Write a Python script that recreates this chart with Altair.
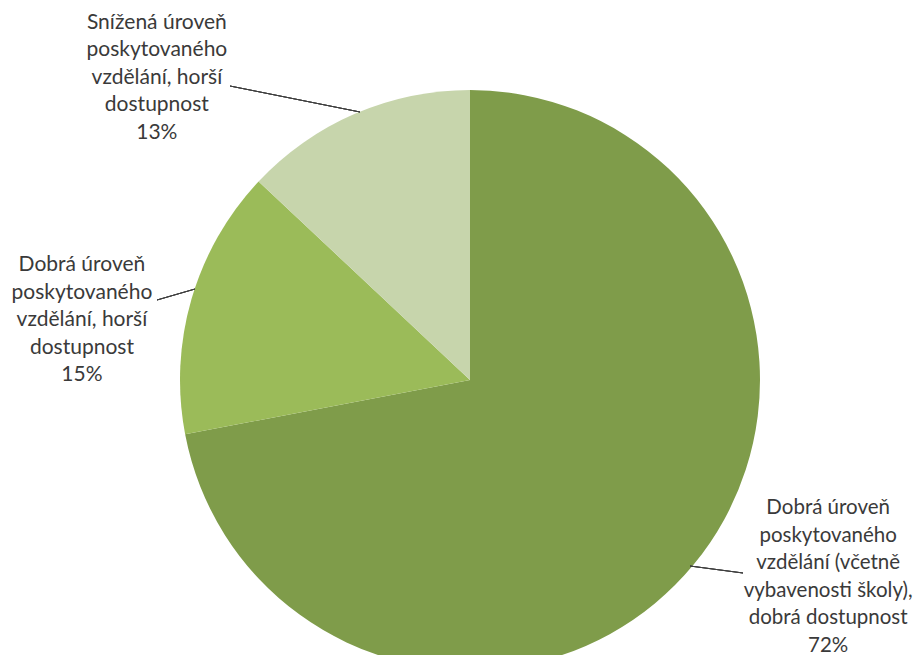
import math
import altair as alt
import pandas as pd

categories = [
    "Dobrá úroveň poskytovaného vzdělání (včetně vybavenosti školy), dobrá dostupnost",
    "Dobrá úroveň poskytovaného vzdělání, horší dostupnost",
    "Snížená úroveň poskytovaného vzdělání, horší dostupnost",
]
values = [72, 15, 13]
label_lines = [
    "Dobrá úroveň\nposkytovaného\nvzdělání (včetně\nvybavenosti školy),\ndobrá dostupnost\n72%",
    "Dobrá úroveň\nposkytovaného\nvzdělání, horší\ndostupnost\n15%",
    "Snížená úroveň\nposkytovaného\nvzdělání, horší\ndostupnost\n13%",
]
colors = ["#7F9C4A", "#9BBB59", "#C7D5AC"]

df = pd.DataFrame({
    "cat": categories,
    "value": values,
    "label": label_lines,
    "idx": list(range(len(categories))),
})

CX, CY = 462, 372
R = 290
FONT = "Lato"
LH = 27.5
TXT = "#3A3A3A"

theta_scale = alt.Scale(domain=[0, 100], range=[0, 2 * math.pi])

base = alt.Chart(df)

pie = base.mark_arc(outerRadius=R, stroke=None).encode(
    theta=alt.Theta("value:Q", stack=True, scale=theta_scale),
    color=alt.Color("cat:N", scale=alt.Scale(domain=categories, range=colors), legend=None),
    order=alt.Order("idx:Q"),
    x=alt.value(CX),
    y=alt.value(CY),
)


def label_layer(i, dx, dy, fs):
    return (
        base.transform_window(cum="sum(value)", sort=[alt.SortField("idx")])
        .transform_calculate(mid="datum.cum - datum.value / 2")
        .transform_filter(alt.datum.idx == i)
        .mark_text(
            radius=300, dx=dx, dy=dy, align="center", baseline="middle",
            lineBreak="\n", lineHeight=LH, font=FONT, fontSize=fs, color=TXT,
        )
        .encode(
            theta=alt.Theta("mid:Q", stack=None, scale=theta_scale),
            text="label:N",
            x=alt.value(CX),
            y=alt.value(CY),
        )
    )


lbl0 = label_layer(0, 127, -63, 20.5)
lbl1 = label_layer(1, -100, -31, 21)
lbl2 = label_layer(2, -194, -82, 21)


def leader(x1, y1, x2, y2):
    return base.mark_rule(color="#404040", strokeWidth=1).encode(
        x=alt.value(x1), y=alt.value(y1), x2=alt.value(x2), y2=alt.value(y2)
    )


lines = leader(222, 78, 352, 104) + leader(149, 292, 187, 281) + leader(682, 558, 735, 565)

chart = (
    alt.layer(pie, lines, lbl0, lbl1, lbl2)
    .properties(width=905, height=647, autosize=alt.AutoSizeParams(type="none"), padding=0)
    .configure_view(stroke=None)
)

chart.save("out.html", embed_options={"renderer": "svg", "actions": False})
